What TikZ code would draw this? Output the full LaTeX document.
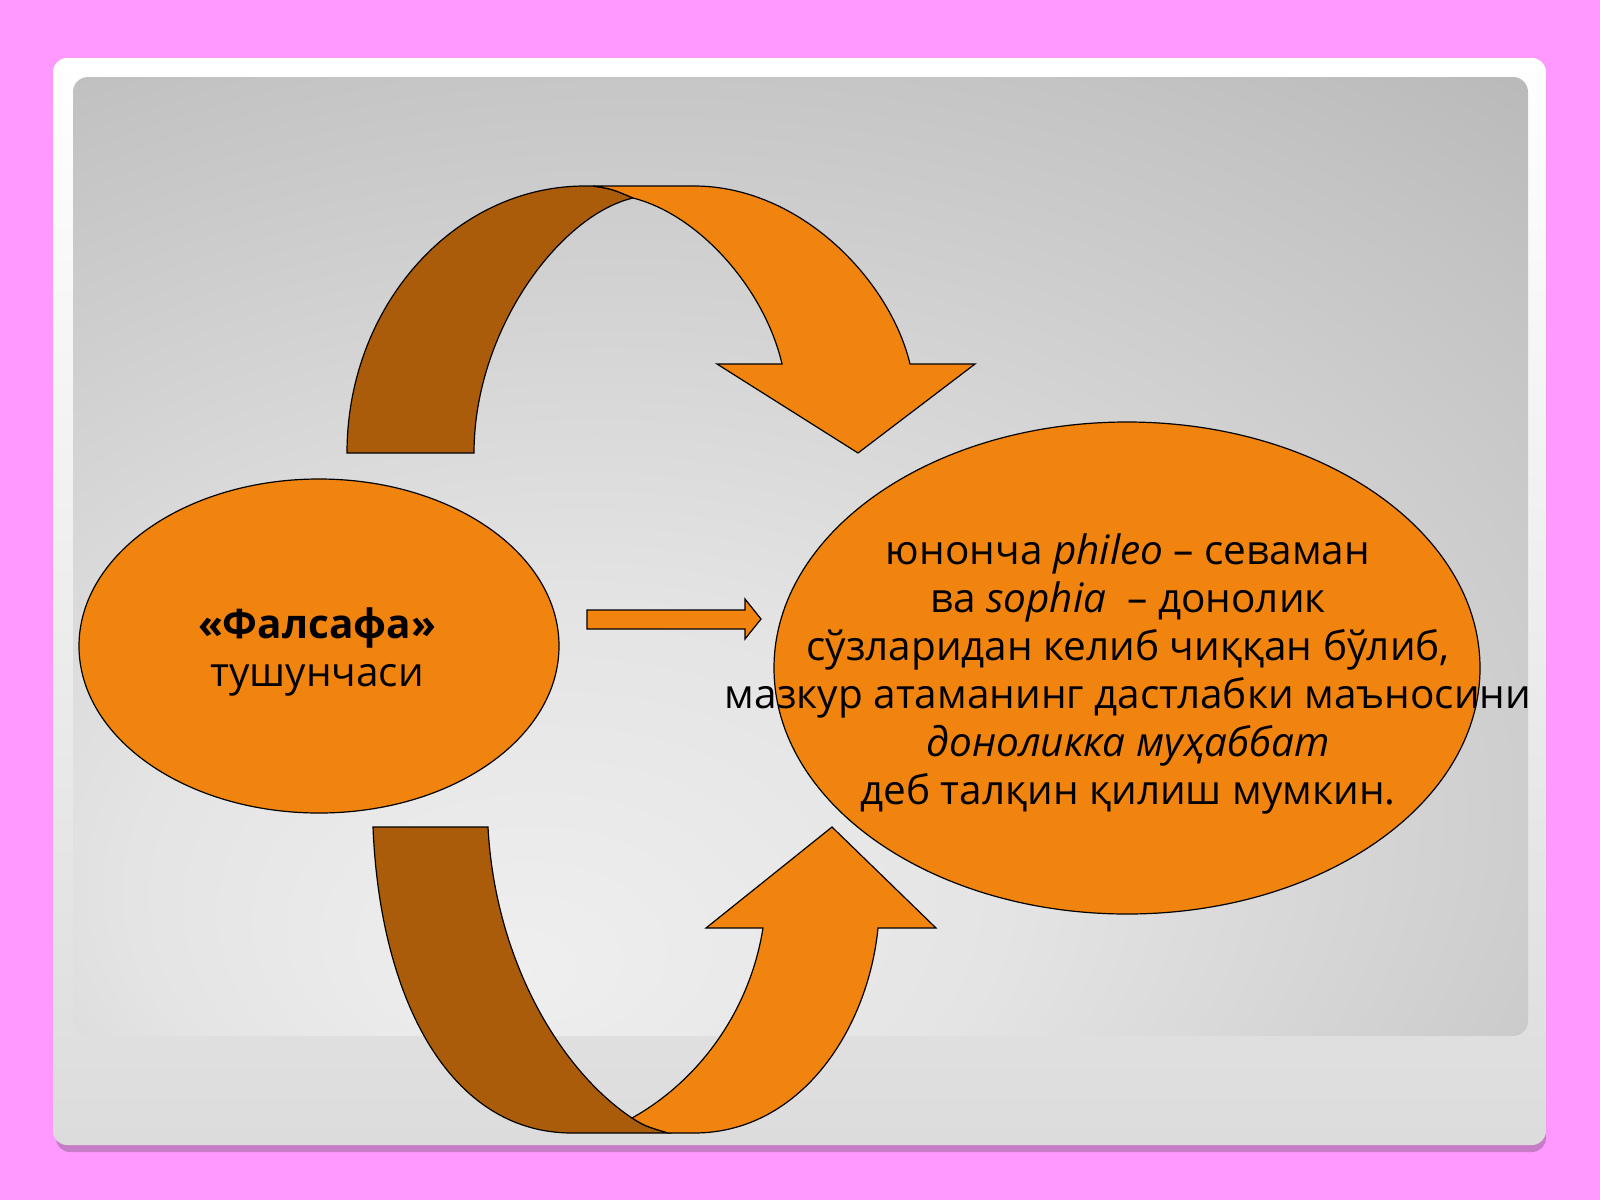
\documentclass[tikz,border=0pt]{standalone}
\usepackage{fontspec}
\setmainfont{Open Sans}
\usetikzlibrary{shapes.geometric}
\definecolor{pinkbg}{HTML}{FF99FF}
\definecolor{shadowpink}{HTML}{C67CC6}
\definecolor{orangefill}{HTML}{F0840F}
\definecolor{darkorange}{HTML}{AB5C0B}
\definecolor{bgA}{HTML}{EFEFEF}
\definecolor{bgB}{HTML}{E4E4E4}
\definecolor{bgC}{HTML}{C4C4C4}
\definecolor{bgD}{HTML}{A9A9A9}
\definecolor{bgE}{HTML}{A0A0A0}
\definecolor{frameBot}{HTML}{DCDCDC}
\pgfdeclareradialshading{bgshade}{\pgfpoint{-10bp}{-22bp}}{color(0bp)=(bgA); color(15bp)=(bgB); color(38bp)=(bgC); color(55bp)=(bgD); color(75bp)=(bgE)}
\tikzset{
  ell/.style={ellipse, draw=black, line width=1.2pt, fill=orangefill, inner sep=0pt},
  txt/.style={align=center, inner sep=0pt, text=black, font=\fontsize{40.5}{48}\selectfont},
  lightpart/.style={fill=orangefill, draw=black, line width=1.2pt, line join=miter},
  darkpart/.style={fill=darkorange, draw=black, line width=1.2pt, line join=miter}
}
\begin{document}
\begin{tikzpicture}[x=1pt,y=-1pt]
\useasboundingbox (0,0) rectangle (1600,1200);
\fill[pinkbg] (0,0) rectangle (1600,1200);
% frame shadow and frame
\fill[shadowpink, rounded corners=14pt] (56,66) rectangle (1546,1152);
\shade[top color=white, bottom color=frameBot, rounded corners=14pt] (53,58) rectangle (1546,1145);
% grey panel
\shade[shading=bgshade, rounded corners=15pt] (73,77) rectangle (1528,1036);
% top curved arrow
\path[darkpart] (347,453) .. controls (347,306) and (454,186) .. (585,186) -- (593,186)
   .. controls (612,189) .. (633,198) .. controls (560,215) and (474,330) .. (474,453) -- cycle;
\path[lightpart] (593,186) -- (694,186) .. controls (800,186) and (890,280) .. (910,364)
   -- (975,364) -- (858,453) -- (717,364) -- (782,364)
   .. controls (765,290) and (700,215) .. (633,198) .. controls (612,189) .. (593,186) -- cycle;
% bottom curved arrow
\path[darkpart] (373,827) -- (488,827) .. controls (495,960) and (560,1070) .. (632,1118)
   .. controls (645,1126) .. (668,1133) -- (572,1133) .. controls (450,1133) and (380,1000) .. (373,827) -- cycle;
\path[lightpart] (632,1118) .. controls (700,1080) and (750,1010) .. (763,928) -- (706,928)
   -- (832,827) -- (936,928) -- (878,928) .. controls (868,1030) and (800,1133) .. (694,1133)
   -- (668,1133) .. controls (645,1126) .. (632,1118) -- cycle;
% ellipses
\node[ell, minimum width=480pt, minimum height=334pt] (L) at (319,646) {};
\node[ell, minimum width=706pt, minimum height=492pt] (R) at (1127,668) {};
% middle block arrow
\path[lightpart] (587,610) -- (745,610) -- (745,599) -- (761,619) -- (745,639) -- (745,629) -- (587,629) -- cycle;
% texts
\node[txt] (Lt) at (317,652) {\textbf{«Фалсафа»}\\ тушунчаси};
\node[txt] (Rt) at (1128,674) {юнонча \textit{phileo} – севаман\\ ва \textit{sophia}\ \ – донолик\\ сўзларидан келиб чиққан бўлиб,\\ мазкур атаманинг дастлабки маъносини\\ \textit{доноликка муҳаббат}\\ деб талқин қилиш мумкин.};
\end{tikzpicture}
\end{document}
